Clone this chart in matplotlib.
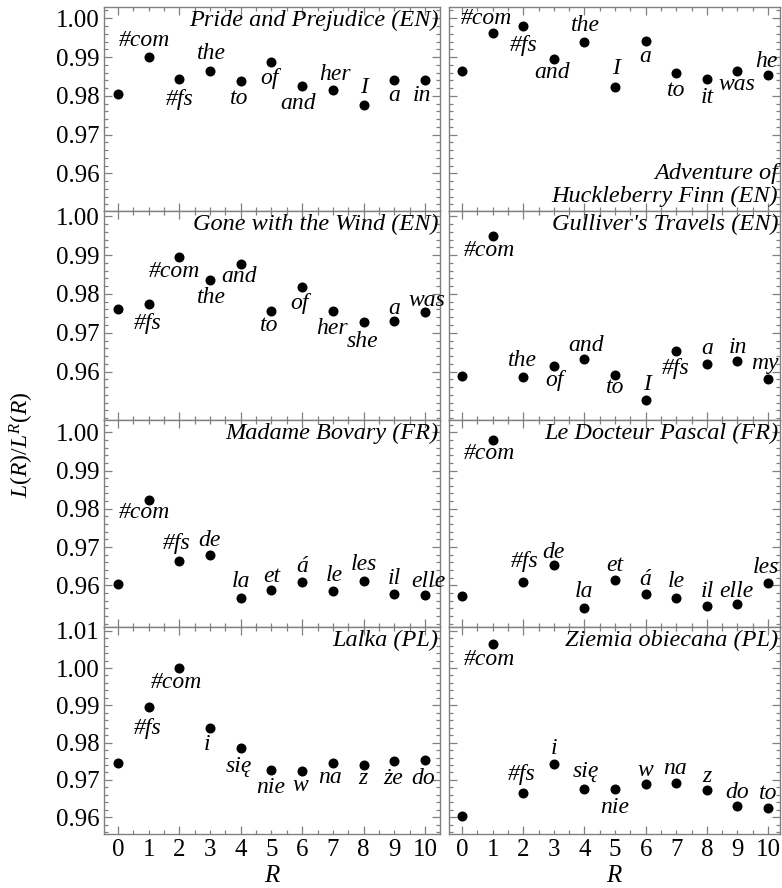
import numpy as np
import matplotlib
matplotlib.use("Agg")
import matplotlib.pyplot as plt
from matplotlib.ticker import MultipleLocator, FixedLocator

plt.rcParams['font.family'] = ['Liberation Serif', 'DejaVu Serif']
plt.rcParams['mathtext.fontset'] = 'custom'
plt.rcParams['mathtext.rm'] = 'Liberation Serif'
plt.rcParams['mathtext.it'] = 'Liberation Serif:italic'

R = list(range(11))

# book titles, panel order: row by row, left then right
titles = ["Pride and Prejudice (EN)", "Adventure of\nHuckleberry Finn (EN)",
          "Gone with the Wind (EN)", "Gulliver's Travels (EN)",
          "Madame Bovary (FR)", "Le Docteur Pascal (FR)",
          "Lalka (PL)", "Ziemia obiecana (PL)"]

# word at each rank (R=0 has no label)
words_pride = ["", "#com", "#fs", "the", "to", "of", "and", "her", "I", "a", "in"]
words_huck = ["", "#com", "#fs", "and", "the", "I", "a", "to", "it", "was", "he"]
words_gone = ["", "#fs", "#com", "the", "and", "to", "of", "her", "she", "a", "was"]
words_gull = ["", "#com", "the", "of", "and", "to", "I", "#fs", "a", "in", "my"]
words_bov = ["", "#com", "#fs", "de", "la", "et", "á", "le", "les", "il", "elle"]
words_pascal = ["", "#com", "#fs", "de", "la", "et", "á", "le", "il", "elle", "les"]
words_lalka = ["", "#fs", "#com", "i", "się", "nie", "w", "na", "z", "że", "do"]
words_ziemia = ["", "#com", "#fs", "i", "się", "nie", "w", "na", "z", "do", "to"]

# L(R)/L^R(R)
ratio_pride = [0.9804, 0.9901, 0.9844, 0.9865, 0.9837, 0.9887, 0.9825, 0.9815, 0.9776, 0.9840, 0.9840]
ratio_huck = [0.9865, 0.9961, 0.9981, 0.9894, 0.9939, 0.9822, 0.9941, 0.9858, 0.9844, 0.9865, 0.9854]
ratio_gone = [0.9761, 0.9774, 0.9895, 0.9836, 0.9877, 0.9757, 0.9818, 0.9757, 0.9728, 0.9730, 0.9753]
ratio_gull = [0.9589, 0.9949, 0.9585, 0.9614, 0.9632, 0.9592, 0.9527, 0.9654, 0.9620, 0.9627, 0.9580]
ratio_bov = [0.9603, 0.9823, 0.9663, 0.9679, 0.9566, 0.9587, 0.9609, 0.9584, 0.9612, 0.9578, 0.9575]
ratio_pascal = [0.9572, 0.9981, 0.9609, 0.9653, 0.9541, 0.9614, 0.9577, 0.9568, 0.9545, 0.9552, 0.9606]
ratio_lalka = [0.9745, 0.9895, 0.9999, 0.9840, 0.9786, 0.9727, 0.9724, 0.9745, 0.9741, 0.9751, 0.9753]
ratio_ziemia = [0.9603, 1.0064, 0.9664, 0.9743, 0.9676, 0.9676, 0.9689, 0.9691, 0.9672, 0.9630, 0.9625]

# labelled y ticks per row
yticks_top = [0.96, 0.97, 0.98, 0.99, 1.00]
yticks_last = [0.96, 0.97, 0.98, 0.99, 1.00, 1.01]

words = [words_pride, words_huck, words_gone, words_gull,
         words_bov, words_pascal, words_lalka, words_ziemia]
ratios = [ratio_pride, ratio_huck, ratio_gone, ratio_gull,
          ratio_bov, ratio_pascal, ratio_lalka, ratio_ziemia]

# label offsets from the dot in pixels (dx right, dy up); None = no label
offsets = [
    [None, (-4, 16), (0, -21), (1, 17), (-2, -17), (-2, -16), (-4, -17), (2, 15), (0, 18), (0, -15), (-3, -15)],
    [None, (-6, 15), (0, -20), (-2, -13), (1, 16), (1, 19), (0, -15), (0, -17), (0, -19), (-1, -14), (-2, 13)],
    [None, (-1, -19), (-5, -14), (1, -17), (-2, -12), (-2, -15), (-3, -16), (-1, -18), (-1, -20), (0, 13), (2, 12)],
    [None, (-3, -14), (-1, 17), (1, -14), (2, 14), (0, -13), (1, 15), (-1, -18), (0, 15), (0, 14), (-3, 16)],
    [None, (-4, -13), (-3, 18), (-1, 15), (0, 17), (0, 14), (0, 15), (1, 16), (0, 16), (0, 15), (3, 13)],
    [None, (-3, -14), (1, 20), (0, 13), (0, 16), (0, 14), (0, 15), (0, 16), (0, 15), (-1, 12), (-2, 15)],
    [None, (-1, -21), (-3, -14), (-3, -17), (-2, -19), (-1, -18), (-2, -15), (-3, -14), (-1, -14), (-1, -18), (-2, -18)],
    [None, (-3, -15), (-2, 19), (0, 15), (1, 17), (0, -19), (0, 14), (-1, 15), (0, 14), (0, 14), (0, 14)],
]

ylims = [(0.9503, 1.0029), (0.9503, 1.0029),
         (0.9475, 1.0014), (0.9475, 1.0014),
         (0.9491, 1.0032), (0.9491, 1.0032),
         (0.9555, 1.0110), (0.9555, 1.0110)]

W, H, DPI = 782, 888, 100
fig = plt.figure(figsize=(W / DPI, H / DPI), dpi=DPI)

col_x = [(104, 440), (449, 780)]
col_xlim = [(-0.456, 10.49), (-0.425, 10.39)]
row_y = [(7, 211), (211, 420), (420, 627), (627, 834)]
frame = '#808080'
fs = 17
fs_tick = 18

for k in range(8):
    row, col = divmod(k, 2)
    x0, x1 = col_x[col]
    y0, y1 = row_y[row]
    ax = fig.add_axes([x0 / W, 1 - y1 / H, (x1 - x0) / W, (y1 - y0) / H])
    ax.plot(R, ratios[k], 'o', color='black', ms=6.2, zorder=3)

    for i, (w, off) in enumerate(zip(words[k], offsets[k])):
        if off is None:
            continue
        ax.annotate(w, (R[i], ratios[k][i]), xytext=(off[0] * 0.72, off[1] * 0.72),
                    textcoords='offset points', ha='center', va='center',
                    fontsize=fs, style='italic', annotation_clip=False)

    if k == 1:
        ax.text(0.995, 0.02, titles[k], transform=ax.transAxes, ha='right', va='bottom',
                fontsize=fs + 0.5, style='italic', linespacing=1.1)
    else:
        ax.text(0.995, 0.985, titles[k], transform=ax.transAxes, ha='right', va='top',
                fontsize=fs + 0.5, style='italic')

    ax.set_xlim(col_xlim[col])
    ax.set_ylim(ylims[k])
    ax.set_xticks(R)
    ax.xaxis.set_minor_locator(MultipleLocator(0.5))
    ax.yaxis.set_major_locator(FixedLocator(yticks_last if row == 3 else yticks_top))
    ax.yaxis.set_minor_locator(MultipleLocator(0.002))
    ax.tick_params(which='both', direction='in', top=True, right=True,
                   color=frame, width=0.9, labelsize=fs_tick, labelcolor='black')
    ax.tick_params(which='major', length=6)
    ax.tick_params(which='minor', length=3)
    for v, t in zip(R, ax.xaxis.get_major_ticks()):
        if v % 2 == 1:
            t.tick1line.set_markersize(3)
            t.tick2line.set_markersize(3)
    for s in ax.spines.values():
        s.set_color(frame)
        s.set_linewidth(1.0)

    if col == 0:
        ax.yaxis.set_major_formatter(plt.FuncFormatter(lambda v, p: f"{v:.2f}"))
    else:
        ax.set_yticklabels([])
    if row == 3:
        ax.set_xlabel('$R$', fontsize=fs_tick, labelpad=3)
    else:
        ax.set_xticklabels([])

fig.text(22 / W, 1 - 445 / H, '$L(R)/L^{R}(R)$', rotation=90, ha='center', va='center',
         fontsize=fs)

fig.savefig('out.png', dpi=DPI)
